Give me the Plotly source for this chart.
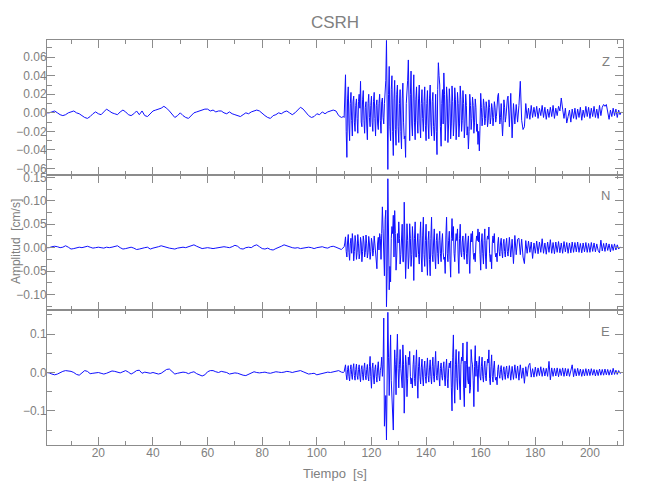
import numpy as np
import plotly.graph_objects as go
from plotly.subplots import make_subplots

# ---------------- data (amplitudes in 1e-3 cm/s) ----------------
# pre-event noise, one sample per second, t = 1 .. 109 s
z_pre = [0, 0, 1, 2, 0, -2, -3, -2, 0, 1,
         2, 0, -1, -3, -5, -6, -4, -1, 1, -1,
         -2, 1, 4, 2, 0, -1, -2, 1, 3, 1,
         -2, -3, -1, 2, -2, 2, -3, -4, -1, 2,
         3, 4, 5, 7, 5, 2, -2, -5, -3, 0,
         -3, -5, -6, -3, 0, 1, 2, 3, 4, 4,
         2, 3, 1, 2, 2, 0, -1, 1, -1, -2,
         -3, -4, -2, 0, -1, 1, 2, 3, 2, -1,
         -3, -5, -6, -3, -2, 0, -1, 1, 2, 0,
         -2, 0, 3, 6, 4, 0, -3, -5, -4, -1,
         -2, 1, -1, 1, 2, 3, 2, -3, -5]
n_pre = [0, 0, 2, 3, 2, 0, 1, 4, 1, -3,
         -2, 0, 1, 0, 2, 3, 1, -1, 0, 1,
         0, -1, 1, 0, 1, 3, 4, 0, -3, -2,
         0, 1, -1, -4, -3, -1, 0, 1, -3, -1,
         0, 2, 4, 2, 0, -1, -2, -3, -1, 0,
         1, 0, 2, 5, 6, 3, 0, -2, -1, 0,
         -1, -2, -1, 0, 1, 2, 1, 0, 2, 5,
         3, -2, -3, 0, 1, 0, 4, 6, 2, -2,
         -3, -1, -4, -5, -2, 0, 3, 6, 4, 1,
         0, -1, 0, -2, -1, 0, 1, 0, -2, 0,
         1, 2, 0, -1, 2, 3, 1, -2, -4]
e_pre = [0, -1, -4, -6, -4, 0, 3, 5, 4, 3,
         0, -5, -7, -2, 5, 3, -3, -2, 0, 0,
         -2, -4, -2, 2, 4, 3, 0, -1, 2, 5,
         1, -4, 0, 5, 6, -2, 1, -1, -2, 0,
         -3, -4, -2, 3, 8, 9, 2, -4, -2, 0,
         1, 0, -3, 0, 2, -3, -7, -9, -6, 2,
         5, 5, 2, 0, 3, 2, 0, -4, -3, -1,
         -2, -5, -7, -8, -4, 0, 2, 0, -1, 0,
         1, -1, -2, 0, 2, 1, 0, 1, 3, 2,
         0, 2, 4, 5, 2, -1, -4, -3, -2, -6,
         -4, -1, 0, 1, 0, 2, 4, 5, 1]

# event, two samples per second, t = 109.5 .. 211.5 s (rows of 5 s)
z_sig = [-4, -5, 41, -48, 28, -30, 22, -25, 18, -20,      # 109.5
         15, -22, 20, 34, -15, 24, -22, 12, -29, 20,      # 114.5
         -15, 18, -20, 22, -25, 14, -18, 20, -22, 16,     # 119.5
         -12, 22, 78, -61, 50, -30, 40, -46, 35, -35,     # 124.5
         30, -32, 25, -39, 32, -28, -48, 20, 57, -30,     # 129.5
         45, -25, 41, -29, 28, -22, 30, -27, 25, -20,     # 134.5
         28, -30, 24, -28, 30, -25, 22, -30, 20, -45,     # 139.5
         54, 30, -36, 25, 43, -30, 28, -32, 26, -28,      # 144.5
         29, -25, 27, -29, 22, -26, 29, -20, 24, -27,     # 149.5
         20, -24, -39, 20, -18, 17, -22, 15, -20, -34,    # 154.5
         -41, 21, -14, 15, -13, 12, -15, 14, -12, 10,     # 159.5
         -14, 12, -10, 15, 21, -12, 10, -25, 14, -10,     # 164.5
         12, 18, -15, 21, -27, 10, -12, 9, -10, 8,        # 169.5
         34, -8, -18, -15, 10, -6, 5, -7, 8, -5,          # 174.5
         6, -4, 7, -6, 5, -3, 8, -5, 6, -7,               # 179.5
         4, -5, 6, -4, 8, -6, 5, -3, 7, 2,                # 184.5
         16, 4, -6, 5, -11, -4, 3, -10, 4, -6,            # 189.5
         5, -7, 4, -5, 6, -8, 3, -5, 7, -4,               # 194.5
         6, -6, 5, -4, 7, -5, 4, -6, 8, -3,               # 199.5
         6, 9, 7, 9, -2, -7, 3, -4, 5, -3,                # 204.5
         4, -5, 3, -2, 1]                                 # 209.5
n_sig = [-1, 2, 23, -20, 28, -27, 20, 30, -28, 26,
         -25, 28, -24, 22, -30, 25, -20, 27, -22, 24,
         -25, 20, -18, 25, -20, -45, 22, 30, -25, 87,
         -45, 60, -126, 147, -90, -73, 45, 69, 79, -48,
         30, 55, -35, 40, -30, 97, -66, 51, -45, 51,
         -40, 45, -70, 55, -20, 30, -35, 55, -52, 65,
         -40, 50, -59, 35, -60, 65, -30, 40, -45, 30,
         -35, 35, -30, 30, -25, -55, 65, -30, 35, -63,
         62, 45, -30, 30, 40, -55, 50, -20, 25, -25,
         30, -35, 25, -55, 30, 35, -25, -30, 25, 40,
         33, -48, 30, -35, 40, -45, 25, 44, -30, -45,
         25, 30, -20, -30, 22, -18, 20, -22, 18, -20,
         20, -18, 22, -20, 18, -34, 26, -15, 18, 20,
         -15, 18, -20, -34, 15, -12, 14, -10, 12, -23,
         10, -12, 14, -13, 12, -10, 19, -12, 10, -14,
         12, -10, 17, -12, 11, -13, 12, -10, 13, -11,
         10, -12, 13, -9, 11, -12, 10, -11, 12, -10,
         11, -9, 12, -10, 9, -11, 10, -9, 11, -10,
         9, -10, 11, -8, 10, -9, 8, -6, -11, 16,
         -7, 9, -8, 10, -6, 8, -9, 7, -6, 8,
         -5, 6, -3, 1, 0]
e_sig = [0, 2, 20, -19, 18, -22, 20, -18, 23, -20,
         22, -18, 20, -24, 18, -20, 25, -19, 21, -22,
         42, -41, 25, -30, 20, -25, 28, -22, 15, -10,
         142, -100, -176, 157, -60, 98, -60, -150, 59, -58,
         100, -40, 60, -30, 72, -106, 45, -63, 40, 55,
         -30, -40, 45, -35, 59, -67, 40, -30, 35, -35,
         30, -28, 38, -25, 33, -30, 40, -25, 55, -20,
         30, -35, 25, -20, 28, -35, 35, -40, 25, 30,
         -100, 98, -80, 60, -45, 55, -71, 40, 77, -89,
         -40, 80, -30, -54, 60, 20, -89, 70, 30, -50,
         42, -20, 40, -25, 30, -22, 35, 59, -32, 46,
         -25, 30, -20, -32, 20, -15, 18, -20, 15, -18,
         17, -15, 18, -20, 16, -18, 20, -15, 17, -20,
         20, -15, 12, -28, 15, -10, 18, 24, -12, 10,
         -12, 14, -10, 12, -8, 15, -10, 12, -9, 11,
         -10, 29, -19, 12, -10, 11, -9, 12, -11, 10,
         -8, 12, -10, 11, -9, 10, -10, 8, 20, -11,
         10, -9, 11, -8, 9, -10, 8, -9, 10, -8,
         9, -8, 10, -7, 8, -9, 7, -8, 9, -7,
         8, -7, 9, -6, 8, -7, 7, -6, 11, -5,
         6, -5, 5, -2, 0]

# extra in-between samples of the strong-motion part, t = 109.75 .. 169.75 s
z_mid = [-4, 10, -20, 15, -12, 10, -8, 12, -10, 8,
         -6, 12, 5, -10, 14, -8, 6, -12, 10, -5,
         8, -10, 12, -6, 8, -12, 10, -8, 12, -5,
         10, 35, -40, 20, -15, 25, -20, 15, -18, 20,
         -15, 10, -20, 15, -10, -25, 10, 35, -15, 20,
         -12, 15, -10, 14, -8, 15, -12, 10, -6, 12,
         -14, 10, -12, 15, -10, 12, -15, -10, -20, 25,
         40, -15, 10, -12, 20, -10, 15, -12, 10, -12,
         12, -10, 14, -12, 10, -12, 14, -8, 10, -12,
         8, -15, -20, 8, -6, 8, -10, 6, -12, -20,
         -15, 6, -5, 8, -6, 5, -8, 6, -5, 4,
         -5, 6, -4, 18, 8, -5, -10, -8, 6, -4,
         15]
n_mid = [0, 10, -8, 12, -10, 8, -12, 10, -8, 12,
         -10, 8, -12, 10, -8, 12, -10, 8, -10, 10,
         -8, 10, -6, 8, -20, 10, -5, 20, 30, 40,
         -60, 80, -50, 40, -40, 20, 30, -20, 30, -20,
         10, 20, -15, 50, -30, 20, -20, 15, -20, 20,
         -15, 10, 20, -20, 10, -15, 20, -20, 25, -15,
         15, -20, 15, -25, 20, -15, 12, -20, 15, -12,
         15, -12, 10, -10, -20, 25, -12, 15, -25, 20,
         15, -12, 10, 15, -20, 20, -10, 12, -10, 12,
         -12, 10, -20, 12, 12, -10, -12, 10, 15, 12,
         -15, 12, -12, 15, -18, 15, 18, -12, -15, 10,
         10, -10, -12, 8, -8, 10, -8, 8, -8, 8,
         -8]
e_mid = [0, 8, -6, 8, -10, 8, -6, 10, -8, 8,
         -8, 8, -10, 8, -6, 10, -8, 8, -10, 15,
         -10, 10, -12, 8, -10, 12, -8, 6, 40, 20,
         -140, -60, 60, 40, 30, -20, -80, -30, 20, 40,
         10, 20, 10, -40, 20, -25, 20, -15, 20, -10,
         -15, 20, -15, 20, -20, 15, -10, 12, -12, 10,
         -10, 12, -8, 12, -10, 15, -10, 20, -8, 12,
         -12, 10, -8, 10, -12, 12, -15, 10, 12, -40,
         40, -30, 20, -15, 20, -30, 20, 30, -40, 30,
         20, -20, 15, -40, 30, -20, 15, -10, 10, 20,
         -10, 15, -10, 12, -8, 15, 25, -15, 15, -10,
         12, -10, -12, 8, -6, 8, -8, 6, -6, 8,
         -6]

components = ["Z", "N", "E"]
pre_series = [z_pre, n_pre, e_pre]
sig_series = [z_sig, n_sig, e_sig]
mid_series = [z_mid, n_mid, e_mid]
y_ranges = [[-0.067, 0.0785], [-0.133, 0.155], [-0.189, 0.163]]
y_dticks = [0.02, 0.05, 0.1]
y_formats = [".2f", ".2f", ".1f"]
x_range = [1.2, 212.1]

PRE_T0, PRE_DT = 1.0, 1.0
SIG_T0, SIG_DT = 109.5, 0.5
MID_T0, MID_DT = 109.75, 0.5

# ---------------- figure ----------------
axcol = "#8c8c8c"
txtcol = "#808080"
FONT = "Liberation Sans, Arial, sans-serif"

fig = make_subplots(rows=3, cols=1, shared_xaxes=True, vertical_spacing=0)

for i in range(3):
    pre, sig, mid = pre_series[i], sig_series[i], mid_series[i]
    t = np.concatenate([PRE_T0 + PRE_DT * np.arange(len(pre)),
                        SIG_T0 + SIG_DT * np.arange(len(sig)),
                        MID_T0 + MID_DT * np.arange(len(mid))])
    y = np.concatenate([np.array(pre, float), np.array(sig, float),
                        np.array(mid, float)]) / 1000.0
    order = np.argsort(t, kind="stable")
    fig.add_trace(go.Scatter(x=t[order], y=y[order], mode="lines",
                             line=dict(color="#1010ff", width=1),
                             showlegend=False, hoverinfo="skip"),
                  row=i + 1, col=1)

for i in range(3):
    fig.update_xaxes(range=x_range, showline=True, linecolor=axcol, linewidth=1,
                     mirror="ticks", ticks="inside", ticklen=8, tickcolor=axcol,
                     tick0=0, dtick=20, showgrid=False, zeroline=False, automargin=False,
                     minor=dict(dtick=10, ticks="inside", ticklen=4, tickcolor=axcol, showgrid=False),
                     showticklabels=(i == 2), ticklabelstandoff=-3,
                     tickfont=dict(family=FONT, size=12, color=txtcol),
                     row=i + 1, col=1)
    fig.update_yaxes(range=y_ranges[i], showline=True, linecolor=axcol, linewidth=1,
                     mirror="ticks", ticks="inside", ticklen=8, tickcolor=axcol,
                     tick0=0, dtick=y_dticks[i], tickformat=y_formats[i],
                     showgrid=False, zeroline=False, automargin=False,
                     ticklabelstandoff=-3,
                     minor=dict(dtick=y_dticks[i] / 2, ticks="inside", ticklen=5,
                                tickcolor=axcol, showgrid=False),
                     tickfont=dict(family=FONT, size=12, color=txtcol),
                     row=i + 1, col=1)

label_y = [0.946, 0.615, 0.280]
annotations = []
for comp, ly in zip(components, label_y):
    annotations.append(dict(text=comp, x=0.970, y=ly, xref="paper", yref="paper",
                            showarrow=False, xanchor="center", yanchor="middle",
                            font=dict(family=FONT, size=13, color=txtcol)))
annotations.append(dict(text="Tiempo  [s]", x=0.5, y=0, xref="paper", yref="paper",
                        yshift=-28, showarrow=False, xanchor="center", yanchor="middle",
                        font=dict(family=FONT, size=13, color=txtcol)))
annotations.append(dict(text="Amplitud  [cm/s]", x=0, y=0.501, xref="paper", yref="paper",
                        xshift=-31, textangle=-90, showarrow=False,
                        xanchor="center", yanchor="middle",
                        font=dict(family=FONT, size=12, color=txtcol)))

# the page adds an 8 px body margin; size the figure so the plot area lands where the reference has it
fig.update_layout(
    width=642, height=492,
    margin=dict(l=39, r=27, t=32, b=55),
    paper_bgcolor="white", plot_bgcolor="white",
    title=dict(text="CSRH", x=0.5093, xanchor="center", y=0.9705, yref="container",
               yanchor="middle", font=dict(family=FONT, size=17, color=txtcol)),
    annotations=annotations,
)

fig.write_html("out.html")
